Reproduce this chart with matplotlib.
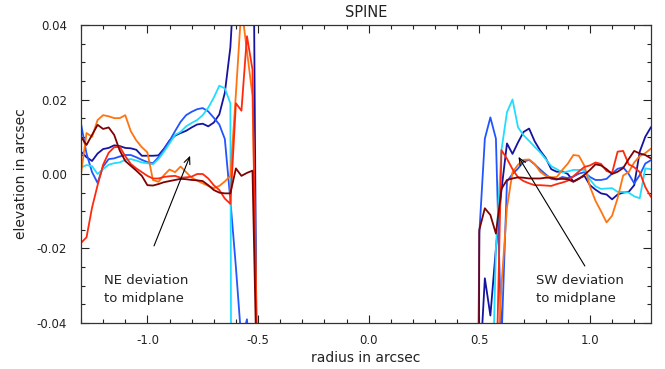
import matplotlib
matplotlib.use("Agg")
import matplotlib.pyplot as plt
from matplotlib.ticker import MultipleLocator, FormatStrFormatter
import numpy as np

plt.rcParams['font.family'] = ['DejaVu Sans']

# ---------------- data ----------------
x_left = [-1.300, -1.275, -1.250, -1.225, -1.200, -1.175, -1.150, -1.125, -1.100, -1.075,
          -1.050, -1.025, -1.000, -0.975, -0.950, -0.925, -0.900, -0.875, -0.850, -0.825,
          -0.800, -0.775, -0.750, -0.725, -0.700, -0.675, -0.650, -0.625, -0.600, -0.575,
          -0.550, -0.525, -0.500]
x_right = [0.475, 0.500, 0.525, 0.550, 0.575, 0.600, 0.625, 0.650, 0.675, 0.700,
           0.725, 0.750, 0.775, 0.800, 0.825, 0.850, 0.875, 0.900, 0.925, 0.950,
           0.975, 1.000, 1.025, 1.050, 1.075, 1.100, 1.125, 1.150, 1.175, 1.200,
           1.225, 1.250, 1.275, 1.300]

navy_left = [0.0060, 0.0045, 0.0035, 0.0055, 0.0067, 0.0070, 0.0077, 0.0075, 0.0070, 0.0069,
             0.0065, 0.0049, 0.0049, 0.0049, 0.0050, 0.0068, 0.0090, 0.0103, 0.0110, 0.0116,
             0.0125, 0.0133, 0.0135, 0.0128, 0.0138, 0.0160, 0.0218, 0.0340, 0.0600, 0.0900,
             0.0900, 0.1000, -0.1000]
blue_left = [0.0135, 0.0055, 0.0005, -0.0024, 0.0020, 0.0040, 0.0042, 0.0047, 0.0051, 0.0051,
             0.0045, 0.0038, 0.0032, 0.0029, 0.0045, 0.0065, 0.0089, 0.0115, 0.0140, 0.0158,
             0.0167, 0.0174, 0.0177, 0.0168, 0.0151, 0.0133, 0.0094, -0.0070, -0.0250, -0.0450,
             -0.0390, -0.0600, -0.0700]
cyan_left = [0.0017, 0.0024, 0.0021, 0.0000, 0.0013, 0.0025, 0.0029, 0.0031, 0.0038, 0.0040,
             0.0036, 0.0031, 0.0029, 0.0026, 0.0040, 0.0060, 0.0082, 0.0105, 0.0113, 0.0128,
             0.0137, 0.0145, 0.0158, 0.0178, 0.0205, 0.0237, 0.0230, 0.0190, -0.5000, -0.5000,
             -0.5000, -0.5000, -0.5000]
orange_left = [0.0000, 0.0110, 0.0100, 0.0145, 0.0158, 0.0155, 0.0150, 0.0150, 0.0158, 0.0115,
               0.0090, 0.0072, 0.0058, -0.0016, -0.0021, -0.0003, 0.0012, 0.0005, 0.0020, 0.0005,
               -0.0010, -0.0018, -0.0025, -0.0032, -0.0038, -0.0032, -0.0020, -0.0005, 0.0215, 0.0450,
               0.0330, 0.0210, -0.0600]
red_left = [-0.0185, -0.0170, -0.0090, -0.0030, 0.0025, 0.0057, 0.0072, 0.0073, 0.0048, 0.0027,
            0.0015, 0.0005, -0.0005, -0.0012, -0.0012, -0.0008, -0.0006, -0.0005, -0.0010, -0.0009,
            -0.0007, 0.0000, 0.0000, -0.0012, -0.0030, -0.0043, -0.0066, -0.0080, 0.0190, 0.0170,
            0.0370, 0.0280, -0.0700]
darkred_left = [0.0100, 0.0078, 0.0105, 0.0132, 0.0121, 0.0125, 0.0105, 0.0063, 0.0035, 0.0022,
                0.0009, -0.0005, -0.0030, -0.0031, -0.0027, -0.0022, -0.0019, -0.0016, -0.0013, -0.0014,
                -0.0016, -0.0017, -0.0019, -0.0030, -0.0043, -0.0050, -0.0052, -0.0052, 0.0015, -0.0005,
                0.0003, 0.0009, -0.0700]

navy_right = [-0.2000, -0.0550, -0.0280, -0.0380, -0.0200, -0.0043, 0.0082, 0.0054, 0.0085, 0.0113,
              0.0122, 0.0088, 0.0063, 0.0043, 0.0013, 0.0006, 0.0007, 0.0000, -0.0020, -0.0012,
              -0.0005, -0.0030, -0.0042, -0.0052, -0.0055, -0.0068, -0.0055, -0.0050, -0.0048, -0.0030,
              0.0060, 0.0100, 0.0125, 0.0140]
blue_right = [-0.2000, -0.0160, 0.0095, 0.0152, 0.0095, -0.0450, -0.0020, 0.0000, 0.0015, 0.0033,
              0.0038, 0.0026, 0.0012, -0.0001, -0.0013, -0.0015, -0.0008, -0.0011, -0.0007, 0.0001,
              0.0005, -0.0008, -0.0016, -0.0016, -0.0013, 0.0001, 0.0014, 0.0018, 0.0000, -0.0025,
              -0.0003, 0.0028, 0.0037, 0.0040]
cyan_right = [-0.1000, -0.1000, -0.1000, -0.0800, -0.0200, 0.0064, 0.0166, 0.0200, 0.0125, 0.0104,
              0.0089, 0.0073, 0.0058, 0.0040, 0.0021, 0.0013, 0.0004, 0.0007, 0.0011, 0.0011,
              0.0011, -0.0015, -0.0033, -0.0040, -0.0039, -0.0038, -0.0048, -0.0048, -0.0050, -0.0060,
              -0.0065, 0.0015, 0.0013, 0.0012]
orange_right = [-0.1000, -0.1000, -0.1000, -0.1000, -0.0600, -0.0300, -0.0090, 0.0005, 0.0025, 0.0038,
                0.0039, 0.0027, 0.0006, -0.0005, -0.0009, -0.0008, 0.0011, 0.0028, 0.0051, 0.0049,
                0.0022, -0.0034, -0.0072, -0.0100, -0.0130, -0.0112, -0.0065, -0.0004, 0.0005, 0.0031,
                0.0048, 0.0056, 0.0068, 0.0070]
red_right = [-0.1000, -0.1000, -0.1000, -0.1000, -0.0600, 0.0064, 0.0041, 0.0013, -0.0009, -0.0019,
             -0.0025, -0.0030, -0.0030, -0.0031, -0.0032, -0.0027, -0.0023, -0.0018, -0.0006, 0.0007,
             0.0019, 0.0023, 0.0031, 0.0027, 0.0008, 0.0003, 0.0060, 0.0062, 0.0026, 0.0018,
             0.0005, -0.0035, -0.0061, -0.0070]
darkred_right = [-0.5000, -0.0150, -0.0092, -0.0110, -0.0160, -0.0040, -0.0016, -0.0012, -0.0009, -0.0010,
                 -0.0012, -0.0012, -0.0012, -0.0010, -0.0010, -0.0014, -0.0013, -0.0014, -0.0021, -0.0013,
                 -0.0002, 0.0011, 0.0026, 0.0023, 0.0013, 0.0000, 0.0006, 0.0016, 0.0040, 0.0062,
                 0.0055, 0.0051, 0.0042, 0.0040]

series = [
    ("#1414a0", navy_left, navy_right),
    ("#2255ff", blue_left, blue_right),
    ("#22dcff", cyan_left, cyan_right),
    ("#ff7410", orange_left, orange_right),
    ("#ff2a0e", red_left, red_right),
    ("#7e0202", darkred_left, darkred_right),
]

# ---------------- figure ----------------
fig = plt.figure(figsize=(6.65, 3.69), dpi=100)
ax = fig.add_axes([0.1218, 0.1247, 0.979 - 0.1218, 0.9322 - 0.1247])

for color, yl, yr in series:
    ax.plot(x_left, yl, color=color, lw=1.3)
    ax.plot(x_right, yr, color=color, lw=1.3)

ax.set_xlim(-1.30, 1.276)
ax.set_ylim(-0.04, 0.04)

ax.xaxis.set_major_locator(MultipleLocator(0.5))
ax.xaxis.set_minor_locator(MultipleLocator(0.1))
ax.yaxis.set_major_locator(MultipleLocator(0.02))
ax.yaxis.set_minor_locator(MultipleLocator(0.005))
ax.xaxis.set_major_formatter(FormatStrFormatter('%.1f'))
ax.yaxis.set_major_formatter(FormatStrFormatter('%.2f'))

ax.tick_params(which='both', direction='in', top=True, right=True, color='#222222', width=0.8)
ax.tick_params(which='major', length=6, labelsize=8.5, labelcolor='#222222')
ax.tick_params(which='minor', length=3)
ax.tick_params(axis='x', which='major', pad=8)
ax.tick_params(axis='y', which='major', pad=10)
for sp in ax.spines.values():
    sp.set_linewidth(0.9)
    sp.set_color('#333333')

ax.set_xlabel("radius in arcsec", fontsize=10, color='#222222', labelpad=3)
ax.set_ylabel("elevation in arcsec", fontsize=10, color='#222222', labelpad=6)
ax.set_title("SPINE", fontsize=10.5, color='#222222', pad=6)

arrow = dict(arrowstyle='->,head_length=0.5,head_width=0.22', lw=0.8, color='black',
             shrinkA=0, shrinkB=0)
ax.annotate('', xy=(-0.807, 0.0049), xytext=(-0.97, -0.0193), arrowprops=arrow)
ax.annotate('', xy=(0.677, 0.0046), xytext=(0.977, -0.0247), arrowprops=arrow)
ax.text(-1.195, -0.031, "NE deviation\nto midplane", fontsize=9.5, color='#222222',
        va='center', ha='left', linespacing=1.45)
ax.text(0.756, -0.031, "SW deviation\nto midplane", fontsize=9.5, color='#222222',
        va='center', ha='left', linespacing=1.45)

fig.savefig("out.png", dpi=100)
